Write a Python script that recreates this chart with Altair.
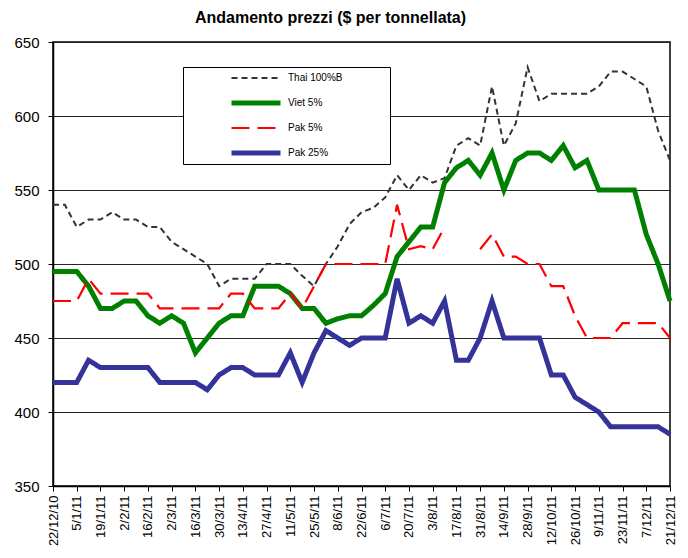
import altair as alt
import pandas as pd

WEEKS = ["22/12/10", "29/12/10", "5/1/11", "12/1/11", "19/1/11", "26/1/11", "2/2/11", "9/2/11",
         "16/2/11", "23/2/11", "2/3/11", "9/3/11", "16/3/11", "23/3/11", "30/3/11", "6/4/11",
         "13/4/11", "20/4/11", "27/4/11", "4/5/11", "11/5/11", "18/5/11", "25/5/11", "1/6/11",
         "8/6/11", "15/6/11", "22/6/11", "29/6/11", "6/7/11", "13/7/11", "20/7/11", "27/7/11",
         "3/8/11", "10/8/11", "17/8/11", "24/8/11", "31/8/11", "7/9/11", "14/9/11", "21/9/11",
         "28/9/11", "5/10/11", "12/10/11", "19/10/11", "26/10/11", "2/11/11", "9/11/11", "16/11/11",
         "23/11/11", "30/11/11", "7/12/11", "14/12/11", "21/12/11"]
TICK_LABELS = WEEKS[::2]

SERIES = ["Thai 100%B", "Viet 5%", "Pak 5%", "Pak 25%"]

THAI = [540, 540, 525, 530, 530, 535, 530, 530, 525, 525, 515, 510, 505, 500, 485, 490,
        490, 490, 500, 500, 500, 492, 485, 500, 512, 527, 535, 538, 545, 560, 550, 560,
        555, 558, 580, 585, 580, 620, 580, 595, 633, 610, 615, 615, 615, 615, 620, 630,
        630, 625, 620, 590, 570]
VIET = [495, 495, 495, 485, 470, 470, 475, 475, 465, 460, 465, 460, 440, 450, 460, 465,
        465, 485, 485, 485, 480, 470, 470, 460, 463, 465, 465, 472, 480, 505, 515, 525,
        525, 555, 565, 570, 560, 575, 550, 570, 575, 575, 570, 580, 565, 570, 550, 550,
        550, 550, 520, 500, 475]
PAK5 = [475, 475, 475, 490, 480, 480, 480, 480, 480, 470, 470, 470, 470, 470, 470, 480,
        480, 470, 470, 470, 480, 470, 485, 500, 500, 500, 500, 500, 500, 540, 510, 512,
        510, 525, None, None, 510, 520, 505, 505, 500, 500, 485, 485, 465, 450, 450, 450,
        460, 460, 460, 460, 450]
PAK25 = [420, 420, 420, 435, 430, 430, 430, 430, 430, 420, 420, 420, 420, 415, 425, 430,
         430, 425, 425, 425, 440, 420, 440, 455, 450, 445, 450, 450, 450, 490, 460, 465,
         460, 475, 435, 435, 450, 475, 450, 450, 450, 450, 425, 425, 410, 405, 400, 390,
         390, 390, 390, 390, 385]

COLORS = ["#333333", "#008000", "#FF0000", "#333399"]
DASHES = [[6, 4], [1, 0], [18, 8], [1, 0]]
WIDTHS = [2, 5, 2.2, 5]

rows = []
for name, vals in zip(SERIES, [THAI, VIET, PAK5, PAK25]):
    for i, (w, v) in enumerate(zip(WEEKS, vals)):
        rows.append({"week": w, "idx": i, "series": name, "value": v})
df = pd.DataFrame(rows)

FONT = "Liberation Sans"

leg = alt.Legend(
    title=None, orient="none", legendX=130, legendY=25, direction="vertical",
    fillColor="white", strokeColor="black", padding=5,
    symbolType="stroke", symbolSize=2401, clipHeight=12, rowPadding=13,
    symbolOffset=41, labelOffset=5,
    labelFont=FONT, labelFontSize=10, labelColor="black",
    labelExpr="datum.label + '\u2800\u2800\u2800\u2800\u2800\u2800'",
)

chart = alt.Chart(df).mark_line(invalid="break-paths-filter-domains").encode(
    x=alt.X("week:N", sort=WEEKS,
            scale=alt.Scale(type="point", padding=0, domain=WEEKS),
            axis=alt.Axis(values=TICK_LABELS, title=None, labelAngle=270,
                          labelFontSize=13, labelPadding=4, tickSize=5,
                          grid=False)),
    y=alt.Y("value:Q", scale=alt.Scale(domain=[350, 650], nice=False, zero=False),
            axis=alt.Axis(values=[350, 400, 450, 500, 550, 600, 650], title=None,
                          labelFontSize=15, labelPadding=9, tickSize=5,
                          grid=True, gridColor="#262626", gridWidth=1)),
    color=alt.Color("series:N", scale=alt.Scale(domain=SERIES, range=COLORS), legend=leg),
    strokeDash=alt.StrokeDash("series:N", scale=alt.Scale(domain=SERIES, range=DASHES), legend=leg),
    strokeWidth=alt.StrokeWidth("series:N",
                                scale=alt.Scale(type="ordinal", domain=SERIES, range=WIDTHS),
                                legend=leg),
    order=alt.Order("idx:Q"),
).properties(
    width=672, height=538,
    autosize=alt.AutoSizeParams(type="fit", contains="padding"),
    padding={"left": 5, "top": 2, "right": 0, "bottom": 0},
    title=alt.Title("Andamento prezzi ($ per tonnellata)", font=FONT, fontSize=16,
                    fontWeight="bold", color="black", anchor="middle", dx=-31, offset=9),
).configure_view(
    stroke="black", strokeWidth=1.5
).configure_axis(
    labelFont=FONT, labelColor="black", domainColor="black", domainWidth=1.5,
    tickColor="black", tickWidth=1,
)

chart.save("out.html", embed_options={"renderer": "svg", "actions": False})
